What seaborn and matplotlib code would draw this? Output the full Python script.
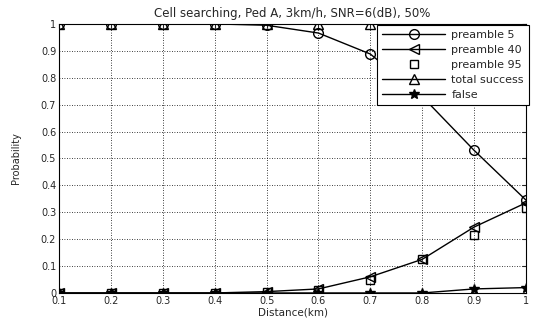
import pandas as pd
import matplotlib
matplotlib.use("Agg")
import matplotlib.pyplot as plt
import seaborn as sns

distance = [0.1, 0.2, 0.3, 0.4, 0.5, 0.6, 0.7, 0.8, 0.9, 1.0]
preamble_5 = [1.0, 1.0, 1.0, 1.0, 0.995, 0.966, 0.888, 0.73, 0.53, 0.345]
preamble_40 = [0.0, 0.0, 0.0, 0.0, 0.005, 0.015, 0.06, 0.125, 0.245, 0.335]
preamble_95 = [0.0, 0.0, 0.0, 0.0, 0.005, 0.01, 0.05, 0.125, 0.215, 0.315]
total_success = [1.0, 1.0, 1.0, 1.0, 1.0, 1.0, 1.0, 1.0, 0.995, 0.985]
false_rate = [0.0, 0.0, 0.0, 0.0, 0.0, 0.0, 0.0, 0.0, 0.015, 0.02]

sns.set_style("white")
plt.rcParams['font.family'] = ['DejaVu Sans']

fig = plt.figure(figsize=(5.38, 3.23), dpi=100)
ax = fig.add_axes([0.1097, 0.093, 0.868, 0.833])

kw = dict(color="black", linewidth=1.0, markerfacecolor="none",
          markeredgecolor="black", markeredgewidth=1.0, markersize=7)

sns.lineplot(x=distance, y=preamble_5, marker="o", label="preamble 5", ax=ax, **kw)
sns.lineplot(x=distance, y=preamble_40, marker="<", label="preamble 40", ax=ax, **kw)
sns.lineplot(x=distance, y=preamble_95, marker="s", label="preamble 95", ax=ax,
             **{**kw, "linestyle": "none", "markersize": 6})
sns.lineplot(x=distance, y=total_success, marker="^", label="total success", ax=ax, **kw)
sns.lineplot(x=distance, y=false_rate, marker="*", label="false", ax=ax,
             **{**kw, "markerfacecolor": "black"})

ax.set_xlim(0.1, 1.0)
ax.set_ylim(0, 1)
ax.set_xticks(distance)
ax.set_xticklabels(["0.1", "0.2", "0.3", "0.4", "0.5", "0.6", "0.7", "0.8", "0.9", "1"])
ax.set_yticks([0, 0.1, 0.2, 0.3, 0.4, 0.5, 0.6, 0.7, 0.8, 0.9, 1.0])
ax.set_yticklabels(["0", "0.1", "0.2", "0.3", "0.4", "0.5", "0.6", "0.7", "0.8", "0.9", "1"])
ax.tick_params(labelsize=7, direction="in", length=3, pad=2, top=True, right=True)
ax.grid(True, color="black", linestyle=(0, (1, 2)), linewidth=0.6)
for s in ax.spines.values():
    s.set_color("black")
    s.set_linewidth(0.8)

ax.set_title("Cell searching, Ped A, 3km/h, SNR=6(dB), 50%", fontsize=8.5, pad=5)
ax.set_xlabel("Distance(km)", fontsize=7.5, labelpad=1)
ax.set_ylabel("Probability", fontsize=7, labelpad=14)

leg = ax.legend(loc="upper right", bbox_to_anchor=(1.006, 0.996), fontsize=8,
                frameon=True, fancybox=False, edgecolor="black", framealpha=1,
                handlelength=5.6, borderaxespad=0, labelspacing=0.45,
                borderpad=0.45, handletextpad=0.6)
leg.get_frame().set_linewidth(0.8)

plt.savefig("out.png", dpi=100)
plt.close()
